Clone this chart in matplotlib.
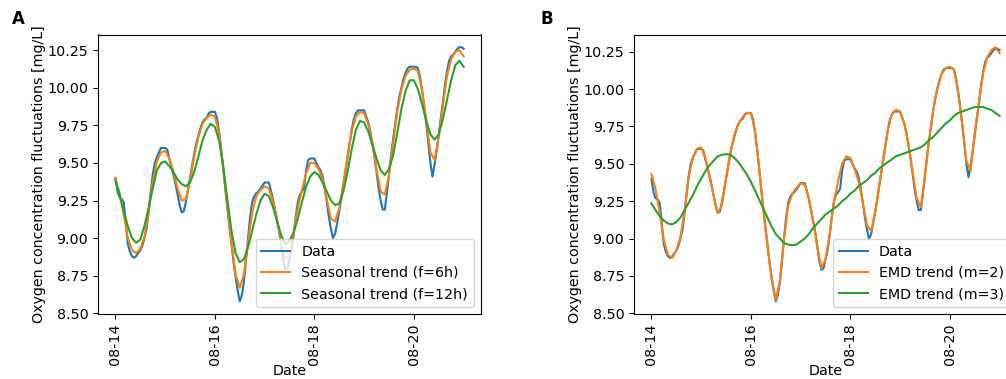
import matplotlib
matplotlib.use("Agg")
import matplotlib.pyplot as plt
import matplotlib.dates as mdates
import pandas as pd

# hourly measurements, 08-14 00:00 to 08-21 00:00
data = [9.40, 9.31, 9.27, 9.26, 9.24, 9.10, 8.96, 8.91, 8.88, 8.87,
        8.88, 8.90, 8.92, 8.95, 9.00, 9.06, 9.17, 9.30, 9.42, 9.50,
        9.54, 9.57, 9.60, 9.60, 9.60, 9.59, 9.53, 9.48, 9.42, 9.36,
        9.29, 9.22, 9.17, 9.18, 9.24, 9.32, 9.40, 9.48, 9.56, 9.63,
        9.68, 9.73, 9.77, 9.79, 9.80, 9.83, 9.84, 9.84, 9.84, 9.80,
        9.71, 9.60, 9.47, 9.33, 9.20, 9.08, 8.96, 8.84, 8.74, 8.65,
        8.58, 8.62, 8.71, 8.85, 9.00, 9.14, 9.24, 9.28, 9.30, 9.31,
        9.33, 9.35, 9.37, 9.37, 9.37, 9.32, 9.26, 9.19, 9.12, 9.05,
        8.95, 8.85, 8.79, 8.80, 8.86, 8.92, 9.02, 9.14, 9.24, 9.29,
        9.31, 9.33, 9.45, 9.52, 9.53, 9.53, 9.53, 9.50, 9.47, 9.45,
        9.41, 9.33, 9.24, 9.14, 9.06, 9.00, 9.03, 9.10, 9.18, 9.26,
        9.36, 9.45, 9.54, 9.63, 9.72, 9.79, 9.83, 9.85, 9.85, 9.85,
        9.85, 9.81, 9.77, 9.71, 9.63, 9.54, 9.44, 9.33, 9.25, 9.19,
        9.19, 9.30, 9.42, 9.55, 9.66, 9.76, 9.86, 9.94, 10.00, 10.06,
        10.10, 10.13, 10.14, 10.14, 10.14, 10.14, 10.13, 10.07, 9.98, 9.88,
        9.76, 9.63, 9.50, 9.41, 9.49, 9.58, 9.69, 9.80, 9.90, 10.02,
        10.11, 10.18, 10.21, 10.22, 10.24, 10.26, 10.27, 10.27, 10.26]

# trends, every 2 hours
seasonal_6h = [9.40, 9.30, 9.16, 9.00, 8.92, 8.90, 8.93, 9.01, 9.17, 9.37,
               9.51, 9.57, 9.58, 9.53, 9.44, 9.33, 9.25, 9.26, 9.38, 9.54,
               9.67, 9.76, 9.80, 9.82, 9.81, 9.70, 9.47, 9.21, 8.97, 8.76,
               8.67, 8.76, 8.97, 9.17, 9.28, 9.32, 9.345, 9.33, 9.25, 9.12,
               8.96, 8.86, 8.89, 9.03, 9.20, 9.32, 9.43, 9.50, 9.50, 9.46,
               9.39, 9.26, 9.13, 9.11, 9.20, 9.36, 9.54, 9.71, 9.81, 9.84,
               9.83, 9.76, 9.63, 9.46, 9.31, 9.29, 9.42, 9.63, 9.84, 9.99,
               10.08, 10.12, 10.13, 10.11, 9.98, 9.78, 9.57, 9.52, 9.67, 9.88,
               10.08, 10.19, 10.24, 10.25, 10.21]

seasonal_12h = [9.385, 9.29, 9.18, 9.08, 9.00, 8.97, 8.99, 9.08, 9.20, 9.33,
                9.45, 9.50, 9.51, 9.48, 9.44, 9.39, 9.36, 9.345, 9.37, 9.44,
                9.54, 9.65, 9.72, 9.76, 9.74, 9.65, 9.48, 9.26, 9.05, 8.90,
                8.84, 8.86, 8.94, 9.05, 9.16, 9.25, 9.295, 9.28, 9.21, 9.11,
                9.02, 8.96, 8.98, 9.04, 9.13, 9.24, 9.34, 9.41, 9.44, 9.42,
                9.37, 9.31, 9.25, 9.22, 9.23, 9.31, 9.44, 9.59, 9.72, 9.78,
                9.77, 9.71, 9.62, 9.53, 9.45, 9.42, 9.46, 9.55, 9.70, 9.86,
                9.98, 10.05, 10.05, 9.99, 9.89, 9.78, 9.69, 9.655, 9.69, 9.79,
                9.92, 10.05, 10.15, 10.18, 10.14]

emd_m2 = [9.43, 9.33, 9.17, 8.99, 8.89, 8.87, 8.92, 9.01, 9.18, 9.41,
          9.54, 9.60, 9.61, 9.54, 9.42, 9.29, 9.17, 9.22, 9.40, 9.57,
          9.69, 9.77, 9.81, 9.84, 9.84, 9.72, 9.47, 9.19, 8.95, 8.73,
          8.59, 8.72, 9.00, 9.22, 9.30, 9.34, 9.37, 9.36, 9.27, 9.12,
          8.95, 8.80, 8.86, 9.03, 9.24, 9.38, 9.50, 9.55, 9.54, 9.47,
          9.38, 9.24, 9.09, 9.05, 9.18, 9.36, 9.54, 9.72, 9.83, 9.86,
          9.85, 9.77, 9.63, 9.45, 9.27, 9.21, 9.42, 9.66, 9.86, 10.01,
          10.10, 10.14, 10.15, 10.13, 9.98, 9.76, 9.52, 9.45, 9.70, 9.91,
          10.10, 10.21, 10.26, 10.28, 10.24]

emd_m3 = [9.235, 9.19, 9.15, 9.12, 9.10, 9.095, 9.11, 9.14, 9.19, 9.24,
          9.29, 9.35, 9.40, 9.45, 9.49, 9.52, 9.55, 9.56, 9.565, 9.56,
          9.54, 9.51, 9.47, 9.43, 9.38, 9.32, 9.26, 9.20, 9.14, 9.08,
          9.03, 9.00, 8.97, 8.96, 8.955, 8.96, 8.98, 9.00, 9.03, 9.07,
          9.10, 9.13, 9.16, 9.18, 9.20, 9.22, 9.25, 9.27, 9.30, 9.32,
          9.35, 9.37, 9.39, 9.42, 9.44, 9.47, 9.49, 9.51, 9.53, 9.55,
          9.56, 9.57, 9.58, 9.59, 9.60, 9.61, 9.63, 9.66, 9.68, 9.71,
          9.74, 9.77, 9.79, 9.82, 9.84, 9.85, 9.86, 9.87, 9.88, 9.88,
          9.88, 9.87, 9.86, 9.84, 9.82]

t_data = pd.date_range("2021-08-14", periods=len(data), freq="h")
t_trend = pd.date_range("2021-08-14", periods=len(seasonal_6h), freq="2h")

plt.rcParams["font.size"] = 10.3

fig = plt.figure(figsize=(10.06, 3.79), dpi=100)
axA = fig.add_axes([98/1006, 65/379, 383/1006, 279.5/379])
axB = fig.add_axes([634/1006, 65/379, 383/1006, 279.5/379])

axA.plot(t_data, data, label="Data")
axA.plot(t_trend, seasonal_6h, label="Seasonal trend (f=6h)")
axA.plot(t_trend, seasonal_12h, label="Seasonal trend (f=12h)")

axB.plot(t_data, data, label="Data")
axB.plot(t_trend, emd_m2, label="EMD trend (m=2)")
axB.plot(t_trend, emd_m3, label="EMD trend (m=3)")

for ax in (axA, axB):
    ax.xaxis.set_major_locator(mdates.DayLocator(bymonthday=[14, 16, 18, 20]))
    ax.xaxis.set_major_formatter(mdates.DateFormatter("%m-%d"))
    plt.setp(ax.get_xticklabels(), rotation=90)
    ax.set_xlabel("Date", labelpad=-1)
    ax.set_ylabel("Oxygen concentration fluctuations [mg/L]", labelpad=1)
    ax.legend(loc="lower right")

fig.text(12/1006, 1 - 19/379, "A", fontsize=12, fontweight="bold", va="center")
fig.text(540/1006, 1 - 19/379, "B", fontsize=12, fontweight="bold", va="center")

fig.savefig("out.png", dpi=100)
